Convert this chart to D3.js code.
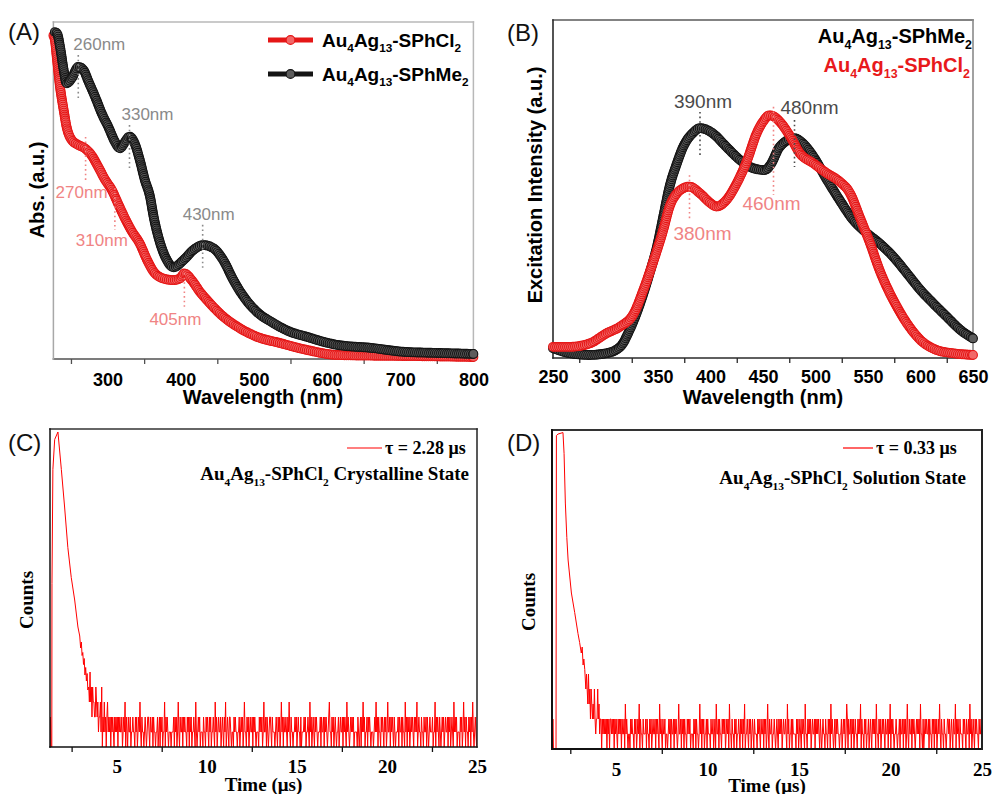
<!DOCTYPE html>
<html>
<head>
<meta charset="utf-8">
<script src="https://cdn.jsdelivr.net/npm/d3@7"></script>
<style>
  html, body { margin: 0; padding: 0; background: #fff; }
  svg { display: block; }
</style>
</head>
<body>
<svg id="fig" width="992" height="794"></svg>
<script>
// ---------- (A) UV-vis absorption (a.u.) ----------
const absWlCl2 = [226,228,231,235,240,244,251,260,269,278,287,297,306,314,323,332,344,354,363,376,390,399,405,415,426,440,458,481,504,536,572,613,660,706,800];
const absCl2   = [96.0,94.7,88.7,80.8,73.9,68.9,65.0,63.5,62.5,60.5,57.1,53.1,50.1,46.3,42.1,38.3,34.3,29.4,25.9,23.9,23.4,23.9,25.4,23.4,20.0,16.5,12.6,9.1,6.6,4.7,2.7,1.2,1.0,0.9,0.6];
const absWlMe2 = [228,231,235,240,244,251,260,267,274,283,292,301,310,317,324,330,337,344,351,358,363,372,381,390,404,417,431,445,458,472,486,504,527,549,572,595,613,660,706,750,800];
const absMe2   = [97.0,96.6,92.7,85.8,81.8,83.3,86.7,85.8,82.3,77.8,72.9,68.9,64.5,62.5,64.5,66.0,64.0,59.1,53.1,48.2,42.2,34.3,29.4,27.2,29.4,32.3,33.8,32.8,29.4,23.4,18.5,14.0,10.6,8.1,6.6,5.1,4.2,3.3,2.1,1.8,1.5];

// ---------- (B) excitation spectra (a.u.) ----------
const excWlMe2 = [250,266,285,301,314,323,333,342,349,355,361,368,374,383,390,402,415,428,441,452,457,466,480,488,498,511,523,536,549,561,574,587,600,612,625,638,650];
const excMe2   = [2.9,1.4,0.9,1.4,3.3,8.3,16.2,25.1,32.9,41.8,50.7,57.6,62.5,66.5,68.0,66.5,62.5,58.6,56.1,55.6,57.1,62.5,65.0,63.5,59.6,52.7,46.7,40.8,36.9,33.9,30.0,25.1,20.1,16.2,12.2,8.3,5.8];
const excWlCl2 = [250,266,285,301,314,327,336,346,355,361,368,374,380,390,400,406,415,425,435,444,450,456,460,466,476,485,498,511,523,533,542,552,561,574,587,600,615,631,650];
const excCl2   = [3.3,3.3,4.3,7.3,9.3,13.2,20.1,29.0,37.9,44.8,48.7,50.2,50.7,48.7,45.8,44.8,46.7,51.7,58.6,66.5,69.9,71.8,71.5,69.9,65.5,60.6,57.6,54.6,52.2,48.7,41.8,33.9,26.0,17.2,10.3,5.3,2.4,1.4,0.9];

// peak markers: wavelength, dotted-line span (a.u.)
const peaksA = [
  { nm: 260, series: "Me2", top: 90.2, bottom: 77.4 },
  { nm: 330, series: "Me2", top: 69.4, bottom: 56.7 },
  { nm: 430, series: "Me2", top: 39.8, bottom: 27.0 },
  { nm: 270, series: "Cl2", top: 65.9, bottom: 53.1 },
  { nm: 310, series: "Cl2", top: 50.7, bottom: 38.3 },
  { nm: 405, series: "Cl2", top: 25.5, bottom: 15.1 }
];
const peaksB = [
  { nm: 390, series: "Me2", top: 72.8, bottom: 59.2 },
  { nm: 480, series: "Me2", top: 70.4, bottom: 56.5 },
  { nm: 380, series: "Cl2", top: 54.1, bottom: 40.8 },
  { nm: 460, series: "Cl2", top: 74.3, bottom: 48.2 }
];

// ---------- (C) crystalline-state decay ----------
const decayTimeC  = [1.31,1.33,1.36,1.40,1.41,1.46,1.56,1.74,1.93,2.11,2.29,2.48,2.67,2.85,2.95,3.00,3.04,3.08,3.12,3.16,3.20,3.24,3.28,3.32,3.36,3.40];
const decayCountC = [0,2,0,0,10.9,18.5,20.5,21.0,18.5,16.0,13.3,11.3,9.8,8.0,7.4,6.6,7.0,6.1,6.3,5.5,5.9,4.8,5.3,4.4,4.9,3.8];
const tailStartC = 3.45;
// photon counts per channel after the decay (one digit per channel)
const tailCountC = (
  "43534243322432312231402131202312120212102121202121" +
  "12012130210211201121102120121310211012101221021120" +
  "21101120120212011302121011101112021201310211202121" +
  "10212021201121031012120111021102121021201121031201" +
  "21120121021301210221011021211011201212013110212012" +
  "11202121011102121201311202101221021110121021201312" +
  "02112102131021101121201211020111212011210312012102" +
  "12101112021120212101231102120121011201211202121031" +
  "21012121201111021012021312011202121011101213120211" +
  "02121021201311202121021011120211202110312021201212" +
  "10212130121102110211202101211120113021210210121201" +
  "21120212012103121201110212013120211021202131012102"
).split("").map(Number);

// ---------- (D) solution-state decay ----------
const decayTimeD  = [1.52,1.55,1.58,1.72,1.74,1.83,2.10,2.16,2.23,2.31,2.38,2.56,2.74,2.92,3.01,3.10,3.15,3.20,3.24,3.29];
const decayCountD = [0,2,0,0,20.9,21.0,21.1,19.7,16.4,14.1,12.6,10.4,9.1,7.7,7.1,6.4,6.8,5.6,6.0,5.3];
const tailStartD = 3.35;
const tailCountD = (
  "45435342432324212242312202121212021202212120212102" +
  "12120211203121011021211021201213021102111202110212" +
  "01211202121031210211201101212021120212101311202120" +
  "21102121201110212021101312021201120211102112012031" +
  "12021102121201212031102110212011210212021301121021" +
  "20121021110212102112021201310211201121012102121201" +
  "21121031201120211110212012102121031102121201211202" +
  "12121021012110211021203121012021211011201212013202" +
  "11202120121102121302110212011201210212120311021201" +
  "21210211202130212101121011202112021201310211202121" +
  "01212120311020121211202110212021201213102110211012" +
  "21201210211302121021110212102112031201210212110211" +
  "2110312021"
).split("").map(Number);
const channelWidth = 0.036; // µs per channel

// ---------- axes ticks ----------
const wlTicksA = [300,400,500,600,700,800];
const wlMinorA = [250,350,450,550,650,750];
const wlTicksB = [250,300,350,400,450,500,550,600,650];
const wlMinorB = [275,325,375,425,475,525,575,625];
const timeTicks = [5,10,15,20,25];
const timeMinor = [2.5,7.5,12.5,17.5,22.5];

// formula names as [text, isSubscript]
const nameCl2 = [["Au"],["4",1],["Ag"],["13",1],["-SPhCl"],["2",1]];
const nameMe2 = [["Au"],["4",1],["Ag"],["13",1],["-SPhMe"],["2",1]];

// ---------- styles ----------
const SANS = "'Liberation Sans', Arial, Helvetica, sans-serif";
const SERIF = "'Liberation Serif', 'Times New Roman', serif";
const style = {
  Cl2: { stroke: "#e51616", fill: "#f26868", label: "#f08484" },
  Me2: { stroke: "#141414", fill: "#5c5c5c", labelA: "#8a8a8a", labelB: "#4a4a4a" }
};

const svg = d3.select("#fig");

function richText(g, x, y, parts, fs, opts) {
  const t = g.append("text").attr("x", x).attr("y", y)
    .attr("font-size", fs).attr("font-family", opts.family)
    .attr("font-weight", opts.weight || "normal")
    .attr("fill", opts.fill || "#000")
    .attr("text-anchor", opts.anchor || "start");
  const shift = fs * (opts.subShift || 0.28);
  const subSize = fs * (opts.subScale || 0.62);
  let down = false;
  parts.forEach(([s, sub]) => {
    const ts = t.append("tspan").text(s);
    if (sub) {
      ts.attr("font-size", subSize);
      if (!down) { ts.attr("dy", shift); down = true; }
    } else if (down) {
      ts.attr("dy", -shift); down = false;
    }
  });
  return t;
}

function frame(g, x0, x1, y0, y1, cols, w) {
  const sides = [
    [x0, y1, x1, y1, cols.bottom], [x0, y0, x1, y0, cols.top],
    [x0, y0, x0, y1, cols.left], [x1, y0, x1, y1, cols.right]
  ];
  sides.forEach(s => g.append("line")
    .attr("x1", s[0]).attr("y1", s[1]).attr("x2", s[2]).attr("y2", s[3])
    .attr("stroke", s[4]).attr("stroke-width", w).attr("stroke-linecap", "square"));
}

function bottomAxis(g, x, yPix, major, minor, font, fs, weight, pad, color) {
  const ax = g.append("g").attr("transform", `translate(0,${yPix})`)
    .call(d3.axisBottom(x).tickValues(major).tickSize(0).tickPadding(pad));
  ax.select(".domain").remove();
  ax.selectAll("text").attr("font-family", font).attr("font-size", fs)
    .attr("font-weight", weight).attr("fill", "#000");
  const mn = g.append("g").attr("transform", `translate(0,${yPix})`)
    .call(d3.axisBottom(x).tickValues(minor).tickSize(5).tickFormat(""));
  mn.select(".domain").remove();
  mn.selectAll("line").attr("stroke", color).attr("stroke-width", 1.3);
}

// thick band of open circle markers running along the spectrum
function markerSeries(g, xs, ys, x, y, st) {
  const pts = xs.map((d, i) => [x(d), y(ys[i])]);
  const path = g.append("path")
    .attr("d", d3.line().curve(d3.curveMonotoneX)(pts))
    .attr("fill", "none").attr("stroke", st.fill).attr("stroke-width", 8);
  const node = path.node();
  const L = node.getTotalLength();
  const marks = d3.range(0, L, 2).map(l => node.getPointAtLength(l));
  marks.push(node.getPointAtLength(L));
  g.append("g").selectAll("circle").data(marks).join("circle")
    .attr("cx", d => d.x).attr("cy", d => d.y).attr("r", 4.4)
    .attr("fill", st.fill).attr("stroke", st.stroke).attr("stroke-width", 1.1);
}

function peakMarks(g, peaks, x, y, fs, colors, offsets) {
  peaks.forEach((p, i) => {
    const c = colors[p.series];
    const px = x(p.nm);
    g.append("line").attr("x1", px).attr("x2", px)
      .attr("y1", y(p.top)).attr("y2", y(p.bottom))
      .attr("stroke", c).attr("stroke-width", 1.6).attr("stroke-dasharray", "1.6,3");
    const o = offsets[i];
    const ly = o.above ? y(p.top) - o.gap : y(p.bottom) + o.gap;
    g.append("text").attr("x", px + o.dx).attr("y", ly)
      .attr("text-anchor", "middle").attr("font-family", SANS)
      .attr("font-size", fs).attr("fill", c).text(p.nm + "nm");
  });
}

function panelLetter(text, x, y) {
  svg.append("text").attr("x", x).attr("y", y).attr("font-family", SANS)
    .attr("font-size", 24).attr("fill", "#111").text(text);
}

// ================= Panel A =================
{
  const g = svg.append("g");
  const x = d3.scaleLinear().domain([226, 800]).range([53.4, 473.4]);
  const y = d3.scaleLinear().domain([0, 100]).range([359, 22]);
  frame(g, 53.4, 473.4, 22, 359, { bottom: "#505050", top: "#b8b8b8", left: "#a8a8a8", right: "#b8b8b8" }, 1.5);
  bottomAxis(g, x, 359, wlTicksA, wlMinorA, SANS, 18, "bold", 14, "#505050");

  markerSeries(g, absWlCl2, absCl2, x, y, style.Cl2);
  markerSeries(g, absWlMe2, absMe2, x, y, style.Me2);

  peakMarks(g, peaksA, x, y, 17, { Me2: style.Me2.labelA, Cl2: style.Cl2.label }, [
    { dx: 21, gap: 5, above: true }, { dx: 18, gap: 5, above: true }, { dx: 6, gap: 5, above: true },
    { dx: -4, gap: 18, above: false }, { dx: -13, gap: 16, above: false }, { dx: -9, gap: 17, above: false }
  ]);

  // legend
  [[style.Cl2, nameCl2, 40], [style.Me2, nameMe2, 74]].forEach(([st, nm, ly]) => {
    g.append("line").attr("x1", 268).attr("x2", 313).attr("y1", ly).attr("y2", ly)
      .attr("stroke", st.stroke).attr("stroke-width", 5);
    g.append("circle").attr("cx", 290.5).attr("cy", ly).attr("r", 4.4)
      .attr("fill", st.fill).attr("stroke", st.stroke).attr("stroke-width", 1.1);
    richText(g, 322, ly + 7, nm, 19, { family: SANS, weight: "bold" });
  });

  g.append("text").attr("x", 263).attr("y", 404).attr("text-anchor", "middle")
    .attr("font-family", SANS).attr("font-weight", "bold").attr("font-size", 20)
    .text("Wavelength (nm)");
  g.append("text").attr("transform", "translate(44,190) rotate(-90)").attr("text-anchor", "middle")
    .attr("font-family", SANS).attr("font-weight", "bold").attr("font-size", 20)
    .text("Abs. (a.u.)");
  panelLetter("(A)", 8, 40);
}

// ================= Panel B =================
{
  const g = svg.append("g");
  const x = d3.scaleLinear().domain([250, 650]).range([553, 973]);
  const y = d3.scaleLinear().domain([0, 100]).range([358, 20]);
  frame(g, 553, 973, 20, 358, { bottom: "#2a2a2a", top: "#5a5a5a", left: "#2a2a2a", right: "#8a8a8a" }, 1.6);
  bottomAxis(g, x, 358, wlTicksB, wlMinorB, SANS, 18, "bold", 12, "#2a2a2a");

  markerSeries(g, excWlMe2, excMe2, x, y, style.Me2);
  markerSeries(g, excWlCl2, excCl2, x, y, style.Cl2);

  peakMarks(g, peaksB, x, y, 19, { Me2: style.Me2.labelB, Cl2: style.Cl2.label }, [
    { dx: 3, gap: 4, above: true }, { dx: 15, gap: 6, above: true },
    { dx: 13, gap: 20, above: false }, { dx: -2, gap: 15, above: false }
  ]);

  richText(g, 972, 43, nameMe2, 20, { family: SANS, weight: "bold", anchor: "end" });
  richText(g, 970, 72, nameCl2, 20, { family: SANS, weight: "bold", anchor: "end", fill: "#e8191b" });

  g.append("text").attr("x", 763).attr("y", 404).attr("text-anchor", "middle")
    .attr("font-family", SANS).attr("font-weight", "bold").attr("font-size", 20)
    .text("Wavelength (nm)");
  g.append("text").attr("transform", "translate(542,185) rotate(-90)").attr("text-anchor", "middle")
    .attr("font-family", SANS).attr("font-weight", "bold").attr("font-size", 20)
    .text("Excitation Intensity (a.u.)");
  panelLetter("(B)", 507, 41);
}

// ================= Panels C & D (decay) =================
function decayPanel(cfg) {
  const g = svg.append("g");
  const x = d3.scaleLinear().domain(cfg.tDomain).range([cfg.x0, cfg.x1]);
  const y = d3.scaleLinear().domain(cfg.cDomain).range([cfg.y1, cfg.y0]);
  const pts = cfg.decayT.map((t, i) => [t, cfg.decayC[i]])
    .concat(cfg.tail.map((c, i) => [cfg.tailStart + i * channelWidth, c]));
  const clipId = "clip" + cfg.letter;
  g.append("clipPath").attr("id", clipId).append("rect")
    .attr("x", cfg.x0).attr("y", cfg.y0 - 2).attr("width", cfg.x1 - cfg.x0).attr("height", cfg.y1 - cfg.y0 + 2);
  g.append("path").attr("clip-path", `url(#${clipId})`)
    .attr("d", d3.line().x(d => x(d[0])).y(d => y(d[1]))(pts))
    .attr("fill", "none").attr("stroke", "#ff0000").attr("stroke-width", 1).attr("stroke-linejoin", "bevel");

  frame(g, cfg.x0, cfg.x1, cfg.y0, cfg.y1, { bottom: "#111", top: "#333", left: "#111", right: "#222" }, cfg.frameW);
  bottomAxis(g, x, cfg.y1, timeTicks, timeMinor, SERIF, 19, "bold", cfg.tickPad, "#111");

  // legend
  g.append("line").attr("x1", cfg.legLine[0]).attr("x2", cfg.legLine[1])
    .attr("y1", cfg.legY).attr("y2", cfg.legY).attr("stroke", "#ff0000").attr("stroke-width", 1.2);
  g.append("text").attr("x", cfg.legLine[1] + 3).attr("y", cfg.legY + 6)
    .attr("font-family", SERIF).attr("font-weight", "bold").attr("font-size", 18)
    .text("τ = " + cfg.tau + " μs");
  richText(g, cfg.textRight, cfg.nameY, nameCl2.concat([[" " + cfg.state]]), 19,
    { family: SERIF, weight: "bold", anchor: "end", subScale: 0.6, subShift: 0.3 });

  g.append("text").attr("x", (cfg.x0 + cfg.x1) / 2).attr("y", cfg.titleY).attr("text-anchor", "middle")
    .attr("font-family", SERIF).attr("font-weight", "bold").attr("font-size", 19).text("Time (μs)");
  g.append("text").attr("transform", `translate(${cfg.countsX},${cfg.countsY}) rotate(-90)`)
    .attr("text-anchor", "middle").attr("font-family", SERIF).attr("font-weight", "bold")
    .attr("font-size", 19).text("Counts");
  panelLetter("(" + cfg.letter + ")", cfg.letterX, 451);
}

decayPanel({
  letter: "C", tDomain: [1.3, 25], cDomain: [0, 21.2],
  x0: 50, x1: 477, y0: 429, y1: 747, frameW: 1.5, tickPad: 13,
  decayT: decayTimeC, decayC: decayCountC, tailStart: tailStartC, tail: tailCountC,
  tau: "2.28", state: "Crystalline State",
  legLine: [347, 382], legY: 448, textRight: 469, nameY: 480,
  titleY: 791, countsX: 33, countsY: 600, letterX: 8
});
decayPanel({
  letter: "D", tDomain: [1.5, 25], cDomain: [0, 21.27],
  x0: 552, x1: 982, y0: 430, y1: 749, frameW: 2, tickPad: 14,
  decayT: decayTimeD, decayC: decayCountD, tailStart: tailStartD, tail: tailCountD,
  tau: "0.33", state: "Solution State",
  legLine: [843, 873], legY: 448, textRight: 966, nameY: 484,
  titleY: 792, countsX: 535, countsY: 602, letterX: 507
});
</script>
</body>
</html>
